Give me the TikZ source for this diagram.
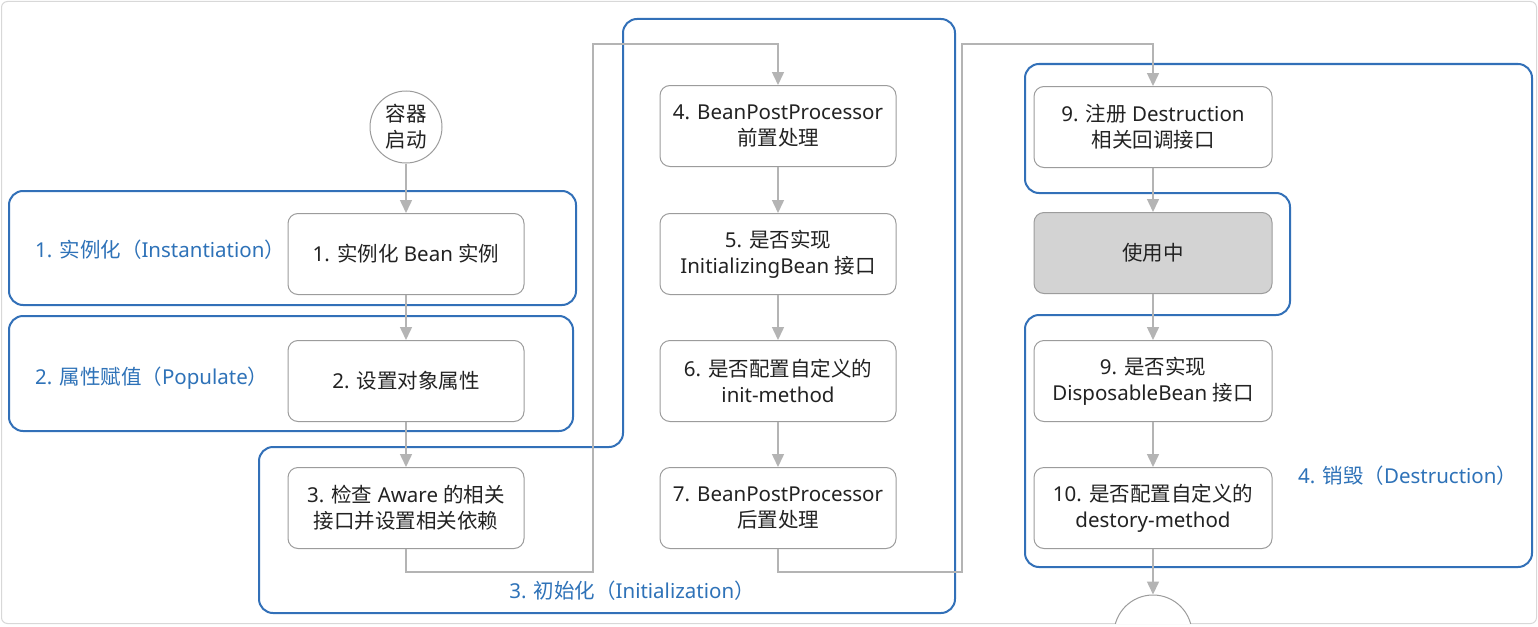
\documentclass[tikz,border=0pt]{standalone}
\usepackage{fontspec}
\setmainfont{Noto Sans}
\newfontfamily\cjk{Noto Sans CJK SC}
\usetikzlibrary{arrows.meta}
\newcommand\zh[1]{{\cjk #1}}
\definecolor{grpblue}{HTML}{3270B8}
\definecolor{lblblue}{HTML}{2E72B8}
\definecolor{conngray}{HTML}{B4B4B4}
\definecolor{boxgray}{HTML}{9C9C9C}
\definecolor{usefill}{HTML}{D3D3D3}
\definecolor{framegray}{HTML}{D8D8D8}
\definecolor{txt}{HTML}{222222}
\tikzset{
  stepbox/.style={draw=boxgray, line width=1pt, rounded corners=10pt, minimum width=236pt, minimum height=81pt, align=center, inner sep=0pt, text=txt, font=\fontsize{20.5}{26}\selectfont, fill=white},
  circ/.style={draw=boxgray, line width=1pt, circle, minimum size=72pt, inner sep=0pt, align=center, text=txt, font=\fontsize{20.5}{26}\selectfont, fill=white},
  conn/.style={draw=conngray, line width=1.5pt, -{Triangle[width=12pt,length=13pt]}},
  grp/.style={draw=grpblue, line width=2pt, rounded corners=14pt},
  lbl/.style={text=lblblue, font=\fontsize{20.5}{26}\selectfont, inner sep=0pt},
}
\begin{document}
\begin{tikzpicture}[x=1pt,y=-1pt]
\useasboundingbox (0,0) rectangle (1538,626);
\fill[white] (0,0) rectangle (1538,626);
\draw[framegray, line width=1pt, rounded corners=6pt] (1.5,1.5) rectangle (1536.5,623.5);

% groups
\draw[grp] (9,191) rectangle (576,305);
\draw[grp] (9,316) rectangle (573,431);
\draw[grp] (789,19) -- (955,19) -- (955,613) -- (259,613) -- (259,447) -- (623,447) -- (623,19) -- cycle;
\draw[grp] (1278,64) -- (1532,64) -- (1532,567) -- (1025,567) -- (1025,315) -- (1290,315) -- (1290,193) -- (1025,193) -- (1025,64) -- cycle;

% labels
\node[lbl, anchor=west] (l1) at (35,250) {1. \zh{实例化（}Instantiation\zh{）}};
\node[lbl, anchor=west] (l2) at (35,378) {2. \zh{属性赋值（}Populate\zh{）}};
\node[lbl] (l3) at (632,591) {3. \zh{初始化（}Initialization\zh{）}};
\node[lbl, anchor=west] (l4) at (1298,476) {4. \zh{销毁（}Destruction\zh{）}};

% nodes
\node[circ] (start) at (406,127) {\zh{容器}\\\zh{启动}};
\node[stepbox] (b1) at (406,254) {1. \zh{实例化} Bean \zh{实例}};
\node[stepbox] (b2) at (406,381) {2. \zh{设置对象属性}};
\node[stepbox] (b3) at (406,508) {3. \zh{检查} Aware \zh{的相关}\\\zh{接口并设置相关依赖}};
\node[stepbox] (b4) at (778,126) {4. BeanPostProcessor\\\zh{前置处理}};
\node[stepbox] (b5) at (778,254) {5. \zh{是否实现}\\InitializingBean \zh{接口}};
\node[stepbox] (b6) at (778,381) {6. \zh{是否配置自定义的}\\init-method};
\node[stepbox] (b7) at (778,508) {7. BeanPostProcessor\\\zh{后置处理}};
\node[stepbox, minimum width=238pt] (d1) at (1153,127) {9. \zh{注册} Destruction\\\zh{相关回调接口}};
\node[stepbox, minimum width=238pt, fill=usefill] (use) at (1153,253) {\zh{使用中}};
\node[stepbox, minimum width=238pt] (d2) at (1153,381) {9. \zh{是否实现}\\DisposableBean \zh{接口}};
\node[stepbox, minimum width=238pt] (d3) at (1153,508) {10. \zh{是否配置自定义的}\\destory-method};
\begin{scope}
\clip (1.5,1.5) rectangle (1536.5,623);
\node[circ, minimum size=78pt] (end) at (1153,634) {};
\end{scope}

\coordinate (j1) at (593,572);
\coordinate (j2) at (593,44);
\coordinate (j3) at (962,572);
\coordinate (j4) at (962,44);

% connectors
\draw[conn] (start) -- (b1);
\draw[conn] (b1) -- (b2);
\draw[conn] (b2) -- (b3);
\draw[conn] (b3.south) |- (j1) -- (j2) -| (b4.north);
\draw[conn] (b4) -- (b5);
\draw[conn] (b5) -- (b6);
\draw[conn] (b6) -- (b7);
\draw[conn] (b7.south) |- (j3) -- (j4) -| (d1.north);
\draw[conn] (d1) -- (use);
\draw[conn] (use) -- (d2);
\draw[conn] (d2) -- (d3);
\draw[conn] (d3) -- (end);
\end{tikzpicture}
\end{document}
